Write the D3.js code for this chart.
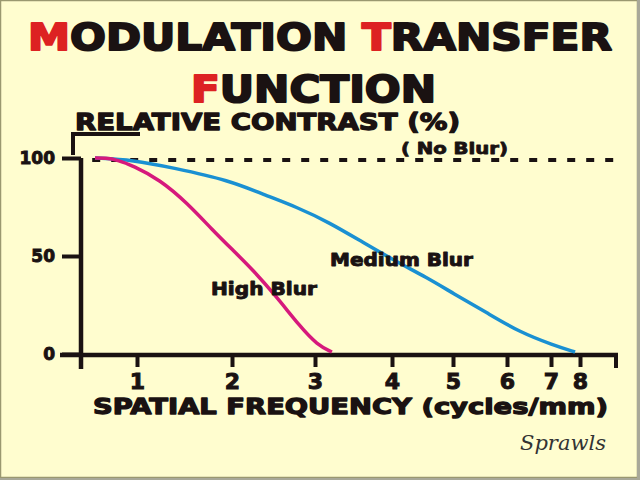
<!DOCTYPE html>
<html><head><meta charset="utf-8">
<script src="https://cdn.jsdelivr.net/npm/d3@7"></script>
<style>html,body{margin:0;padding:0;background:#FFFDCF;}svg{display:block;}</style>
</head><body>
<script>
// ---- data ----
const xTickValues = [1, 2, 3, 4, 5, 6, 7, 8];
const xBreaks = [0, 1, 2, 3, 4, 5, 6, 7, 8, 9]; // irregular hand-drawn frequency axis breakpoints
const yTickValues = [0, 50, 100];
const noBlurValue = 100;
const highBlurFreq  = [0.25, 0.44, 0.65, 0.93, 1.24, 1.53, 1.80, 2.01, 2.25, 2.54, 2.82, 3.03, 3.22];
const highBlurValue = [100, 100, 99, 96, 89, 77, 63, 53, 43, 29, 14, 4.6, 1];
const medBlurFreq   = [0.25, 0.93, 1.38, 1.98, 2.37, 2.78, 3.19, 3.62, 4.08, 4.57, 5.0, 5.63, 6.30, 7.07, 7.83];
const medBlurValue  = [100, 99, 95, 88.5, 81.5, 75, 67, 57, 47, 39, 31, 21, 11, 4.6, 1];
const seriesLabels = ["High Blur", "Medium Blur", "( No Blur)"];

const W = 640, H = 480;
const svg = d3.select("body").append("svg").attr("width", W).attr("height", H);
svg.append("rect").attr("x", 0.5).attr("y", 0.5).attr("width", W - 3).attr("height", H - 3)
  .attr("fill", "#FFFDCF").attr("stroke", "#9a9870").attr("stroke-width", 1.5);
svg.append("rect").attr("x", W - 3).attr("y", 0).attr("width", 3).attr("height", H).attr("fill", "#a8a898");
svg.append("rect").attr("x", 0).attr("y", H - 2).attr("width", W).attr("height", 2).attr("fill", "#a8a898");

const x = d3.scaleLinear().domain(xBreaks)
  .range([81, 137, 232, 315, 392, 453, 507, 551, 580, 616]);
const y = d3.scaleLinear().domain([0, 100]).range([354, 158]);

const ink = "#1a1212", red = "#dd2222";
const font = "'DejaVu Sans', 'Liberation Sans', sans-serif";

function txt(s, px, py, size, len, sw) {
  const t = svg.append("text").attr("x", px).attr("y", py).attr("font-family", font)
    .attr("font-weight", "bold").attr("font-size", size).attr("fill", ink)
    .attr("stroke", ink).attr("stroke-width", sw != null ? sw : size / 25).attr("stroke-linejoin", "round");
  if (len) t.attr("textLength", len).attr("lengthAdjust", "spacingAndGlyphs");
  if (s != null) t.text(s);
  return t;
}

// titles
const t1 = txt(null, 28, 50, 38, 584, 2);
t1.append("tspan").attr("fill", red).attr("stroke", red).text("M");
t1.append("tspan").text("ODULATION ");
t1.append("tspan").attr("fill", red).attr("stroke", red).text("T");
t1.append("tspan").text("RANSFER");
const t2 = txt(null, 191, 102, 38, 245, 2);
t2.append("tspan").attr("fill", red).attr("stroke", red).text("F");
t2.append("tspan").text("UNCTION");

txt("RELATIVE CONTRAST (%)", 75, 130, 23, 385, 1.3);
txt("SPATIAL FREQUENCY (cycles/mm)", 93, 414, 22, 515, 1.3);

// bracket above y axis
svg.append("path").attr("d", "M73,155 V134 H140").attr("fill", "none")
  .attr("stroke", ink).attr("stroke-width", 4);

// axis lines
svg.append("line").attr("x1", x(0)).attr("x2", x(0)).attr("y1", y(100)).attr("y2", 369)
  .attr("stroke", ink).attr("stroke-width", 4.5);
svg.append("line").attr("x1", 60).attr("x2", x(9) + 2).attr("y1", y(0) + 1).attr("y2", y(0) + 1)
  .attr("stroke", ink).attr("stroke-width", 4.5);
svg.append("line").attr("x1", x(9)).attr("x2", x(9)).attr("y1", y(0)).attr("y2", 368)
  .attr("stroke", ink).attr("stroke-width", 4);

const gx = svg.append("g").attr("transform", `translate(0,${y(0) + 1})`)
  .call(d3.axisBottom(x).tickValues(xTickValues).tickSize(12).tickPadding(6).tickFormat(d3.format("d")));
gx.select(".domain").remove();
gx.selectAll(".tick line").attr("stroke", ink).attr("stroke-width", 4);
gx.selectAll(".tick text").attr("font-family", font).attr("font-weight", "bold")
  .attr("font-size", 22).attr("fill", ink).attr("stroke", ink).attr("stroke-width", 1);

const gy = svg.append("g").attr("transform", `translate(${x(0)},0)`)
  .call(d3.axisLeft(y).tickValues(yTickValues).tickSize(19).tickPadding(7).tickFormat(d3.format("d")));
gy.select(".domain").remove();
gy.selectAll(".tick line").attr("stroke", ink).attr("stroke-width", 4);
gy.selectAll(".tick text").attr("font-family", font).attr("font-weight", "bold")
  .attr("font-size", 17).attr("fill", ink).attr("stroke", ink).attr("stroke-width", 0.9);

// No blur dashed line
svg.append("line").attr("x1", x(0.2)).attr("x2", x(9) - 2).attr("y1", y(noBlurValue) + 2).attr("y2", y(noBlurValue) + 2)
  .attr("stroke", ink).attr("stroke-width", 4).attr("stroke-dasharray", "8,11");

const line = d3.line().x(d => x(d[0])).y(d => y(d[1])).curve(d3.curveBasis);
svg.append("path").datum(d3.zip(medBlurFreq, medBlurValue)).attr("d", line)
  .attr("fill", "none").attr("stroke", "#1a90d2").attr("stroke-width", 3.5);
svg.append("path").datum(d3.zip(highBlurFreq, highBlurValue)).attr("d", line)
  .attr("fill", "none").attr("stroke", "#d6197c").attr("stroke-width", 3.5);

txt(seriesLabels[0], 211, 295, 17, 106, 0.9);
txt(seriesLabels[1], 330, 266, 17, 143, 0.9);
txt(seriesLabels[2], 401, 154, 15, 107, 0.8);

svg.append("text").attr("x", 520).attr("y", 450).attr("font-family", "'DejaVu Serif', 'Liberation Serif', serif")
  .attr("font-style", "italic").attr("font-size", 20).attr("fill", "#333")
  .attr("textLength", 86).attr("lengthAdjust", "spacingAndGlyphs").text("Sprawls");
</script>
</body></html>
